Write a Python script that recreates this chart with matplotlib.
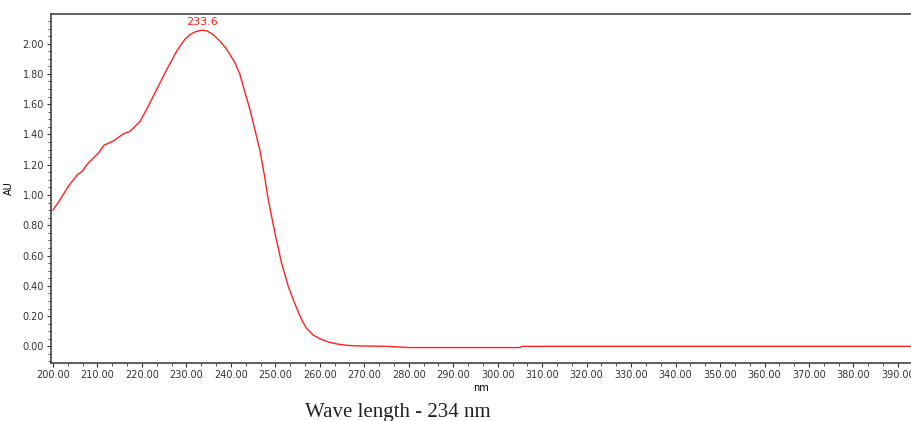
import matplotlib
matplotlib.use('Agg')
import matplotlib.pyplot as plt
from matplotlib.ticker import MultipleLocator, AutoMinorLocator, FormatStrFormatter

# spectrum (nm, AU)
wavelength = [200.0, 201.6, 203.5, 205.5, 206.5, 207.9, 210.3, 211.5, 213.5, 215.8,
              217.3, 219.6, 221.4, 223.3, 225.6, 227.8, 228.6, 229.7, 230.8, 232.0,
              233.4, 234.6, 236.0, 237.6, 239.1, 240.5, 240.9, 242.0, 243.2, 244.3,
              245.4, 246.5, 247.6, 248.4, 249.9, 251.4, 252.9, 254.0, 255.4, 256.2,
              257.0, 258.5, 260.0, 262.0, 263.8, 266.0, 268.3, 275.0, 280.0, 290.0,
              300.0, 305.0, 305.5, 320.0, 350.0, 380.0, 400.0]
absorb = [0.90, 0.97, 1.06, 1.135, 1.155, 1.21, 1.28, 1.33, 1.355, 1.404,
          1.42, 1.487, 1.586, 1.697, 1.83, 1.95, 1.985, 2.03, 2.06, 2.078,
          2.089, 2.085, 2.06, 2.016, 1.96, 1.895, 1.873, 1.80, 1.675, 1.564,
          1.43, 1.30, 1.12, 0.97, 0.75, 0.55, 0.397, 0.31, 0.21, 0.16,
          0.12, 0.075, 0.05, 0.028, 0.016, 0.007, 0.003, 0.0, -0.008, -0.008,
          -0.008, -0.008, 0.0, 0.0, 0.0, 0.0, 0.0]
peak_label = "233.6"
peak_x = 233.6
peak_y = 2.089

fig = plt.figure(figsize=(9.11, 4.21), dpi=100)
ax = fig.add_axes([51/911, 1 - 363/421, 1 - 51/911, (363 - 14)/421])
ax.plot(wavelength, absorb, color='#ff2020', lw=1.0)
ax.text(peak_x, peak_y + 0.02, peak_label, color='#ff2020', fontsize=8,
        ha='center', va='bottom')

ax.set_xlim(199.55, 392.93)
ax.set_ylim(-0.11, 2.196)
ax.xaxis.set_major_locator(MultipleLocator(10))
ax.xaxis.set_minor_locator(AutoMinorLocator(3))
ax.yaxis.set_major_locator(MultipleLocator(0.2))
ax.yaxis.set_minor_locator(AutoMinorLocator(4))
ax.xaxis.set_major_formatter(FormatStrFormatter('%.2f'))
ax.yaxis.set_major_formatter(FormatStrFormatter('%.2f'))
ax.tick_params(axis='both', which='major', labelsize=7, length=3, width=0.8,
               colors='#333333', pad=2)
ax.tick_params(axis='both', which='minor', length=2, width=0.6, colors='#333333')
ax.spines['right'].set_visible(False)
for s in ['left', 'bottom', 'top']:
    ax.spines[s].set_color('#444444')
    ax.spines[s].set_linewidth(1.2)

ax.set_xlabel('nm', fontsize=7, labelpad=2)
ax.set_ylabel('AU', fontsize=7, labelpad=6)

fig.text(398/911, 1 - 412/421, 'Wave length - 234 nm', family='Liberation Serif',
         fontsize=15, ha='center', va='center', color='#222222')

fig.savefig('out.png', dpi=100)
